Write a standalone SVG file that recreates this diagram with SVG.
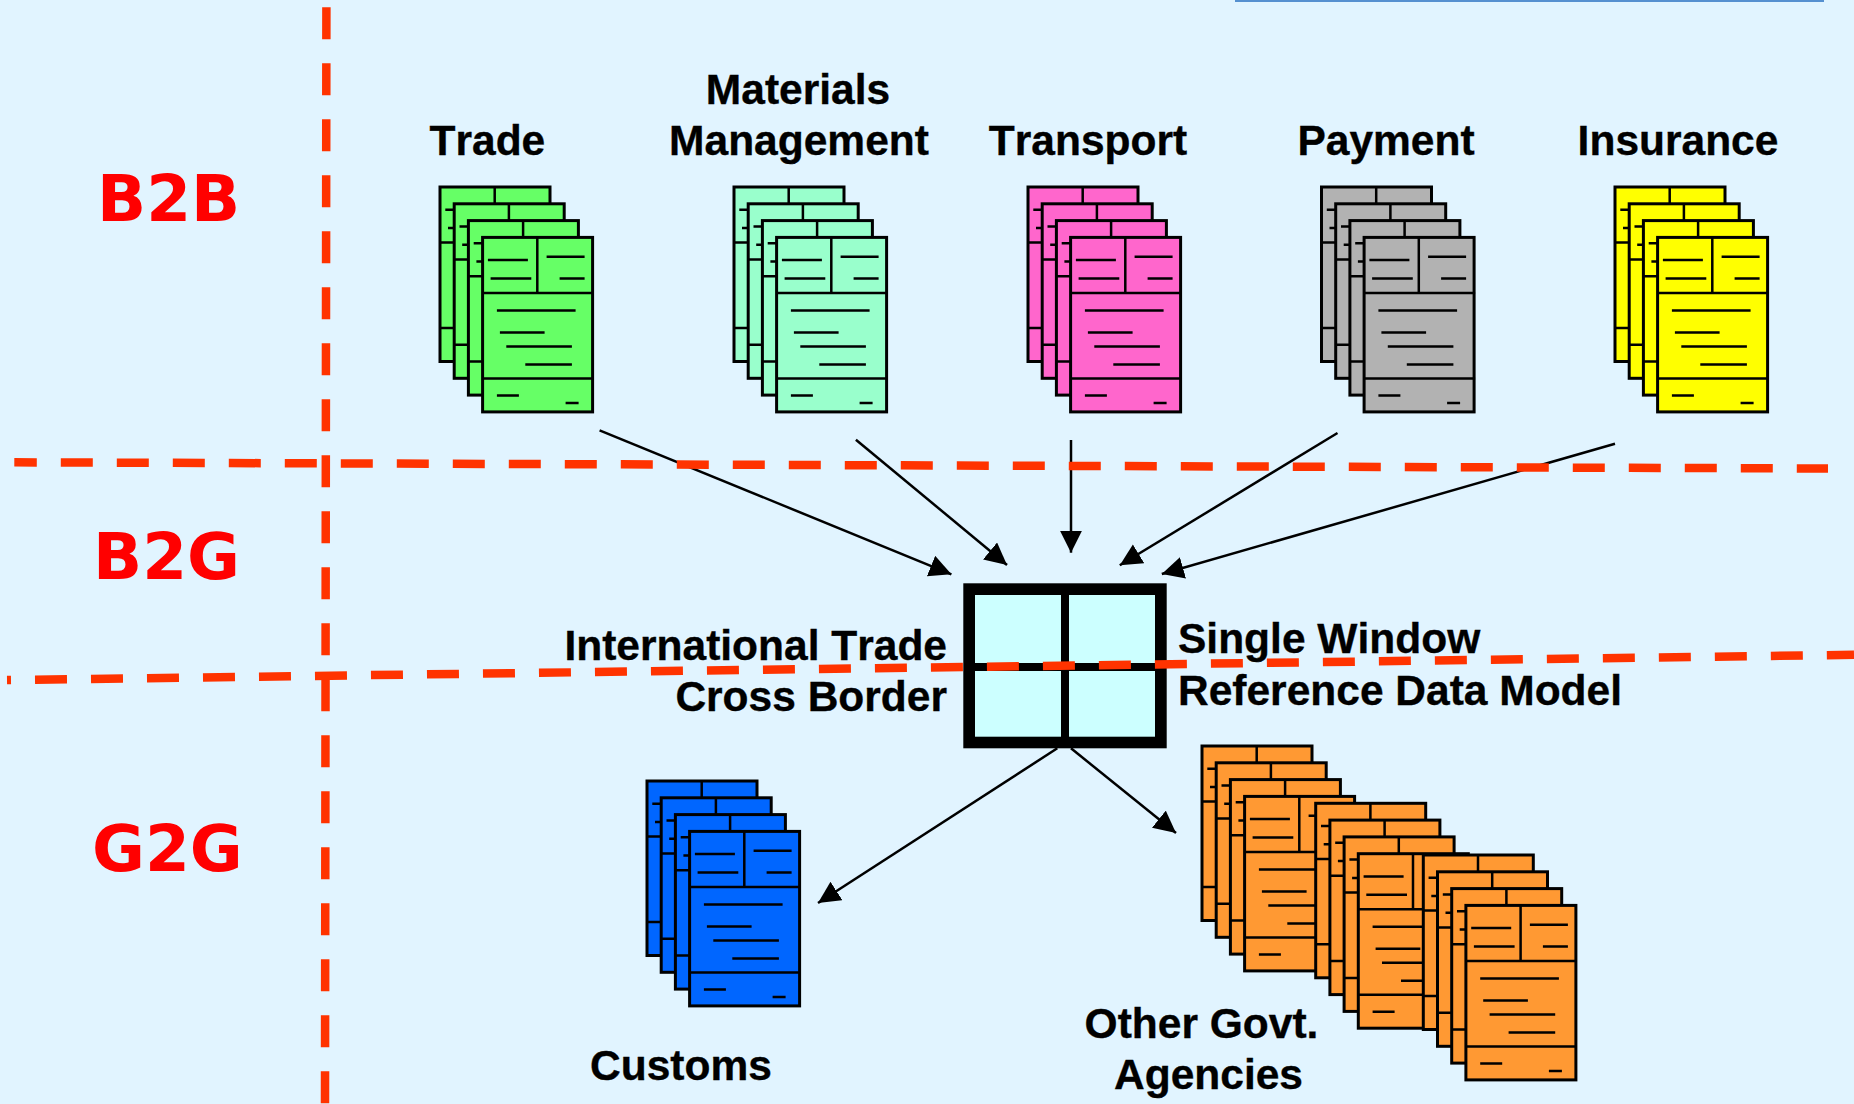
<svg xmlns="http://www.w3.org/2000/svg" width="1854" height="1104" viewBox="0 0 1854 1104">
<style>
.lbl{font-family:"Liberation Sans",Arial,sans-serif;font-weight:700;font-size:42.5px;fill:#000;font-kerning:none;stroke:#000;stroke-width:.35}
.zone{font-family:"DejaVu Sans",sans-serif;font-weight:700;font-size:64.5px;fill:#f00}
.m{text-anchor:middle}.e{text-anchor:end}
.sheet-line{stroke:#000;stroke-width:2.5;fill:none}
.sheet-box{stroke:#000;stroke-width:3}
.conn{stroke:#000;stroke-width:2.5;fill:none;marker-end:url(#arrow)}
.dash{stroke:#f30;stroke-width:8.5;fill:none;stroke-dasharray:32 24}
</style>
<defs>
<marker id="arrow" markerUnits="userSpaceOnUse" markerWidth="24" markerHeight="24" refX="22" refY="11" orient="auto"><path d="M0 0L22 11L0 22z" fill="#000"/></marker>
<g id="sheet">
<rect class="sheet-box" width="110" height="174.5"/>
<path class="sheet-line" d="M54.7 0V55.6M0 55.6H111M0 141H111M5.3 22.7H45.3M8 41H48.7M64 19.3H102M77 41H102M14.3 73H93M17.3 95H62M23.7 109H89.3M42.7 127H89.3M14.3 158H36.3M83 165.7H96"/>
</g>
<g id="stack">
<use href="#sheet"/><use href="#sheet" x="14.2" y="16.8"/><use href="#sheet" x="28.4" y="33.6"/><use href="#sheet" x="42.6" y="50.4"/>
</g>
</defs>
<rect width="1854" height="1104" fill="#e1f4ff"/>
<rect id="top-bar" x="1235" y="0" width="589" height="2" fill="#5590d0"/>
<g id="connectors">
<line class="conn" x1="599.6" y1="430.3" x2="951.4" y2="574.3"/>
<line class="conn" x1="855.9" y1="439.7" x2="1007" y2="565"/>
<line class="conn" x1="1071" y1="440" x2="1071" y2="552.7"/>
<line class="conn" x1="1337.5" y1="433" x2="1119.8" y2="565.3"/>
<line class="conn" x1="1615" y1="443.7" x2="1161.8" y2="574"/>
<line class="conn" x1="1057.3" y1="748.3" x2="818" y2="903"/>
<line class="conn" x1="1071" y1="748.3" x2="1176" y2="833"/>
</g>
<g id="node-trade"><use href="#stack" x="440" y="187" fill="#6f6"/><text class="lbl" x="429.5" y="155">Trade</text></g>
<g id="node-materials"><use href="#stack" x="734" y="187" fill="#9fc"/><text class="lbl m" x="798" y="104">Materials</text><text class="lbl m" x="799" y="155">Management</text></g>
<g id="node-transport"><use href="#stack" x="1028" y="187" fill="#f6c"/><text class="lbl m" x="1088" y="155">Transport</text></g>
<g id="node-payment"><use href="#stack" x="1321.5" y="187" fill="#b2b2b2"/><text class="lbl m" x="1386" y="155">Payment</text></g>
<g id="node-insurance"><use href="#stack" x="1615" y="187" fill="#ff0"/><text class="lbl m" x="1678" y="155">Insurance</text></g>
<g id="node-customs"><use href="#stack" x="647" y="781" fill="#06f"/><text class="lbl m" x="681" y="1080">Customs</text></g>
<g id="node-agencies"><use href="#stack" x="1202" y="746" fill="#f93"/><use href="#stack" x="1315.7" y="803.3" fill="#f93"/><use href="#stack" x="1423.3" y="855" fill="#f93"/><text class="lbl m" x="1201.5" y="1038">Other Govt.</text><text class="lbl m" x="1208.5" y="1089">Agencies</text></g>
<g id="node-window">
<rect x="963.3" y="583.3" width="203.4" height="165" fill="#000"/>
<rect x="975" y="595" width="86" height="68" fill="#cff"/><rect x="1069" y="595" width="86" height="68" fill="#cff"/>
<rect x="975" y="671" width="86" height="65.7" fill="#cff"/><rect x="1069" y="671" width="86" height="65.7" fill="#cff"/>
<text class="lbl e" x="947" y="660">International Trade</text>
<text class="lbl e" x="947" y="711">Cross Border</text>
<text class="lbl" x="1178" y="652.7">Single Window</text>
<text class="lbl" x="1178" y="705">Reference Data Model</text>
</g>
<g id="zones">
<text class="zone" x="97" y="221">B2B</text>
<text class="zone" x="93" y="579">B2G</text>
<text class="zone" x="92" y="871">G2G</text>
</g>
<g id="dividers">
<line class="dash" x1="326.4" y1="7.3" x2="325" y2="1104"/>
<line class="dash" x1="14.3" y1="462.3" x2="1828" y2="468.5" stroke-dashoffset="9.5"/>
<line class="dash" x1="7" y1="680.1" x2="1854" y2="654.8" stroke-dashoffset="28"/>
</g>
</svg>
